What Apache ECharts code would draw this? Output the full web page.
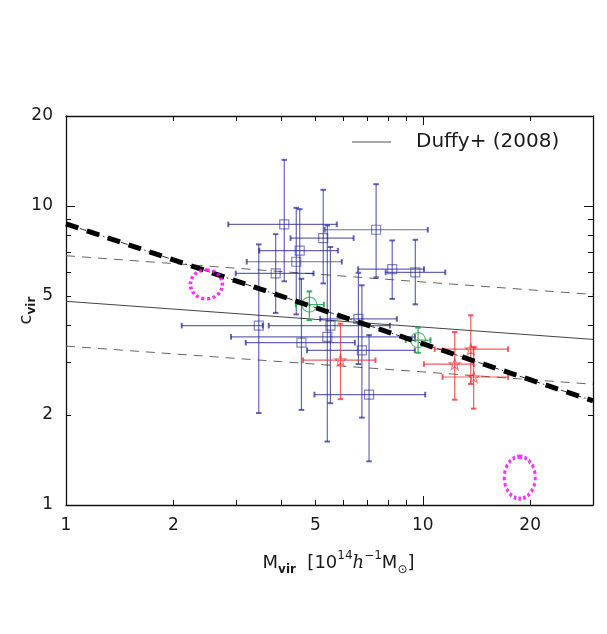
<!DOCTYPE html>
<html><head><meta charset="utf-8">
<script src="https://cdn.jsdelivr.net/npm/echarts@6/dist/echarts.min.js"></script>
<style>html,body{margin:0;padding:0;background:#fff}#c{width:607px;height:634px}</style>
</head><body><div id="c"></div>
<script>
// ---- data ----
const xLabelValues = [1, 2, 5, 10, 20];
const yLabelValues = [1, 2, 5, 10, 20];
const xMajorTicks = [1, 10];
const xMinorTicks = [2, 3, 4, 5, 6, 7, 8, 9, 20];
const yMajorTicks = [1, 10];
const yMinorTicks = [2, 3, 4, 5, 6, 7, 8, 9];

const lineX = [1, 30];
const fitY = [8.72, 2.23];
const duffyY = [4.80, 3.58];
const upperY = [6.82, 5.06];
const lowerY = [3.40, 2.535];

// rows: [M, c, M_lo, M_hi, c_lo, c_hi]
const blueRows = [
  [4.09, 8.68, 2.85, 5.74, 5.60, 14.27],
  [7.40, 8.33, 5.31, 10.33, 5.77, 11.83],
  [5.26, 7.81, 4.26, 6.40, 5.51, 11.33],
  [4.52, 7.09, 3.48, 5.78, 4.73, 9.76],
  [4.42, 6.51, 3.21, 5.93, 4.34, 9.86],
  [3.87, 5.95, 2.99, 4.94, 4.39, 8.05],
  [8.21, 6.15, 6.59, 10.08, 4.89, 7.67],
  [9.53, 6.00, 7.87, 11.56, 4.69, 7.71],
  [3.47, 3.98, 2.11, 3.56, 2.03, 7.44],
  [5.51, 3.98, 3.70, 8.09, 2.19, 7.29],
  [6.60, 4.19, 5.16, 8.46, 2.96, 5.98],
  [5.40, 3.65, 2.90, 9.51, 1.63, 8.61],
  [4.57, 3.49, 3.19, 6.45, 2.08, 5.71],
  [6.75, 3.29, 4.74, 9.50, 1.96, 5.43],
  [7.07, 2.34, 4.97, 10.16, 1.40, 3.70]
];
const greenRows = [
  [4.81, 4.68, 4.41, 5.28, 4.15, 5.18],
  [9.70, 3.56, 8.96, 10.51, 3.23, 3.92]
];
const redRows = [
  [5.88, 3.05, 4.62, 7.37, 2.26, 4.04],
  [12.29, 2.96, 10.07, 13.89, 2.25, 3.79],
  [13.63, 3.32, 10.80, 17.34, 2.54, 4.31],
  [13.89, 2.68, 11.36, 17.34, 2.10, 3.38]
];
const ellipsePoints = [[2.475, 5.47], [18.7, 1.235]];

// ---- styling ----
const FONT = 'DejaVu Sans';
const BLUE = 'rgba(30,30,150,0.68)';
const GREEN = 'rgba(20,165,70,0.85)';
const RED = 'rgba(240,35,35,0.72)';
const pairs = ys => lineX.map((x, i) => [x, ys[i]]);

function errSeries(rows, color) {
  return {
    type: 'custom', xAxisIndex: 0, yAxisIndex: 0, data: rows, silent: true, z: 3,
    encode: { x: [0, 2, 3], y: [1, 4, 5] },
    renderItem(params, api) {
      const x = api.value(0), y = api.value(1);
      const l = api.coord([api.value(2), y]), r = api.coord([api.value(3), y]);
      const b = api.coord([x, api.value(4)]), t = api.coord([x, api.value(5)]);
      const cap = 2.8;
      const st = { stroke: color, lineWidth: 1.2 };
      const cs = { stroke: color, lineWidth: 2 };
      const seg = (x1, y1, x2, y2, s) => ({ type: 'line', shape: { x1, y1, x2, y2 }, style: s });
      return { type: 'group', children: [
        seg(l[0], l[1], r[0], r[1], st),
        seg(b[0], b[1], t[0], t[1], st),
        seg(l[0], l[1] - cap, l[0], l[1] + cap, cs),
        seg(r[0], r[1] - cap, r[0], r[1] + cap, cs),
        seg(b[0] - cap, b[1], b[0] + cap, b[1], cs),
        seg(t[0] - cap, t[1], t[0] + cap, t[1], cs)
      ]};
    }
  };
}

const axisLineStyle = { color: '#111', width: 1.3 };
function xAx(grid, pos, ticks, len, labels) {
  return {
    type: 'log', logBase: 10, min: 1, max: 30, gridIndex: grid, position: pos,
    axisLine: { show: grid === 0, lineStyle: axisLineStyle },
    axisTick: { show: true, inside: true, length: len, customValues: ticks, lineStyle: { color: '#111', width: 1 } },
    axisLabel: labels ? { show: true, customValues: xLabelValues, fontSize: 17, fontFamily: FONT, color: '#1a1a1a', margin: 12, formatter: v => String(v) } : { show: false },
    splitLine: { show: false }, minorTick: { show: false }
  };
}
function yAx(grid, pos, ticks, len, labels) {
  return {
    type: 'log', logBase: 10, min: 1, max: 20, gridIndex: grid, position: pos,
    axisLine: { show: grid === 0, lineStyle: axisLineStyle },
    axisTick: { show: true, inside: true, length: len, customValues: ticks, lineStyle: { color: '#111', width: 1 } },
    axisLabel: labels ? { show: true, customValues: yLabelValues, fontSize: 17, fontFamily: FONT, color: '#1a1a1a', margin: 13, formatter: v => String(v) } : { show: false },
    splitLine: { show: false }, minorTick: { show: false }
  };
}

const xA0 = xAx(0, 'bottom', xMajorTicks, 9, true);
xA0.name = '{m|M}{sub|vir}{m|  [10}{sup|14}{it|h}{sup|−1}{m|M}{sub2|⊙}{m|]}';
xA0.nameLocation = 'middle';
xA0.nameGap = 45;
xA0.nameTextStyle = { fontFamily: FONT, color: '#1a1a1a', padding: [0, 0, 0, 18], rich: {
  m: { fontSize: 18, lineHeight: 26, fontFamily: FONT, color: '#1a1a1a' },
  it: { fontSize: 18, lineHeight: 26, fontFamily: 'DejaVu Serif', fontStyle: 'italic', color: '#1a1a1a' },
  sup: { fontSize: 12, lineHeight: 13, verticalAlign: 'top', fontFamily: FONT, color: '#1a1a1a' },
  sub: { fontSize: 12, lineHeight: 12, verticalAlign: 'bottom', fontWeight: 'bold', fontFamily: FONT, color: '#1a1a1a' },
  sub2: { fontSize: 12, lineHeight: 12, verticalAlign: 'bottom', fontFamily: FONT, color: '#1a1a1a' }
}};
const yA0 = yAx(0, 'left', yMajorTicks, 9, true);
yA0.name = '{m|c}{sub|vir}';
yA0.nameLocation = 'middle';
yA0.nameRotate = 90;
yA0.nameGap = 28;
yA0.nameMoveOverlap = false;
yA0.nameTextStyle = { fontFamily: FONT, color: '#1a1a1a', rich: {
  m: { fontSize: 18, lineHeight: 24, fontFamily: FONT, color: '#1a1a1a' },
  sub: { fontSize: 12, lineHeight: 12, verticalAlign: 'bottom', fontWeight: 'bold', fontFamily: FONT, color: '#1a1a1a' }
}};

const gridBox = { left: 66, right: 14, top: 116, bottom: 129, containLabel: false, outerBoundsMode: 'none' };

const option = {
  backgroundColor: '#fff',
  animation: false,
  grid: [Object.assign({}, gridBox), Object.assign({}, gridBox)],
  xAxis: [xA0, xAx(0, 'top', xMajorTicks, 9, false), xAx(1, 'bottom', xMinorTicks, 5, false), xAx(1, 'top', xMinorTicks, 5, false)],
  yAxis: [yA0, yAx(0, 'right', yMajorTicks, 9, false), yAx(1, 'left', yMinorTicks, 5, false), yAx(1, 'right', yMinorTicks, 5, false)],
  legend: {
    data: ['Duffy+ (2008)'], left: 347, top: 127, icon: 'rect', itemWidth: 39, itemHeight: 1.2, selectedMode: false,
    textStyle: { fontSize: 20, fontFamily: FONT, color: '#1a1a1a', padding: [0, 0, 0, 20] }
  },
  series: [
    { name: 'upper', type: 'line', data: pairs(upperY), symbol: 'none', silent: true, z: 2,
      lineStyle: { color: '#666', width: 1, type: [9, 7] } },
    { name: 'lower', type: 'line', data: pairs(lowerY), symbol: 'none', silent: true, z: 2,
      lineStyle: { color: '#666', width: 1, type: [9, 7] } },
    { name: 'Duffy+ (2008)', type: 'line', data: pairs(duffyY), symbol: 'none', silent: true, z: 2,
      itemStyle: { color: '#555' }, lineStyle: { color: '#444', width: 1 } },
    errSeries(blueRows, BLUE),
    errSeries(greenRows, GREEN),
    errSeries(redRows, RED),
    { type: 'scatter', data: blueRows, symbol: 'rect', symbolSize: 9, silent: true, z: 4,
      itemStyle: { color: 'rgba(0,0,0,0)', borderColor: BLUE, borderWidth: 1.2 } },
    { type: 'scatter', data: greenRows, symbol: 'circle', symbolSize: 15, silent: true, z: 4,
      itemStyle: { color: 'rgba(0,0,0,0)', borderColor: GREEN, borderWidth: 1.2 } },
    { type: 'scatter', data: redRows, symbol: 'path://M0,-10L2.35,-3.24L9.51,-3.09L3.8,1.24L5.88,8.09L0,4L-5.88,8.09L-3.8,1.24L-9.51,-3.09L-2.35,-3.24Z',
      symbolSize: 11, silent: true, z: 4,
      itemStyle: { color: 'rgba(0,0,0,0)', borderColor: RED, borderWidth: 1.2 } },
    { name: 'fit-thin', type: 'line', data: pairs(fitY), symbol: 'none', silent: true, z: 5,
      lineStyle: { color: '#333', width: 1, type: [7, 3, 1.5, 3] } },
    { name: 'fit', type: 'line', data: pairs(fitY), symbol: 'none', silent: true, z: 6,
      lineStyle: { color: '#000', width: 5, type: [13, 9] } },
    { type: 'scatter', data: ellipsePoints, silent: true, z: 7,
      symbol: 'path://M0,-1C0.552,-1 1,-0.552 1,0C1,0.552 0.552,1 0,1C-0.552,1 -1,0.552 -1,0C-1,-0.552 -0.552,-1 0,-1Z',
      symbolSize: (v, p) => p.dataIndex === 0 ? [32, 29] : [31, 42],
      itemStyle: { color: 'rgba(0,0,0,0)', borderColor: '#ff00ff', borderWidth: 3.5, borderType: [3, 2.5] } }
  ]
};
const chart = echarts.init(document.getElementById('c'), null, { renderer: 'canvas' });
chart.setOption(option);
</script>
</body></html>
